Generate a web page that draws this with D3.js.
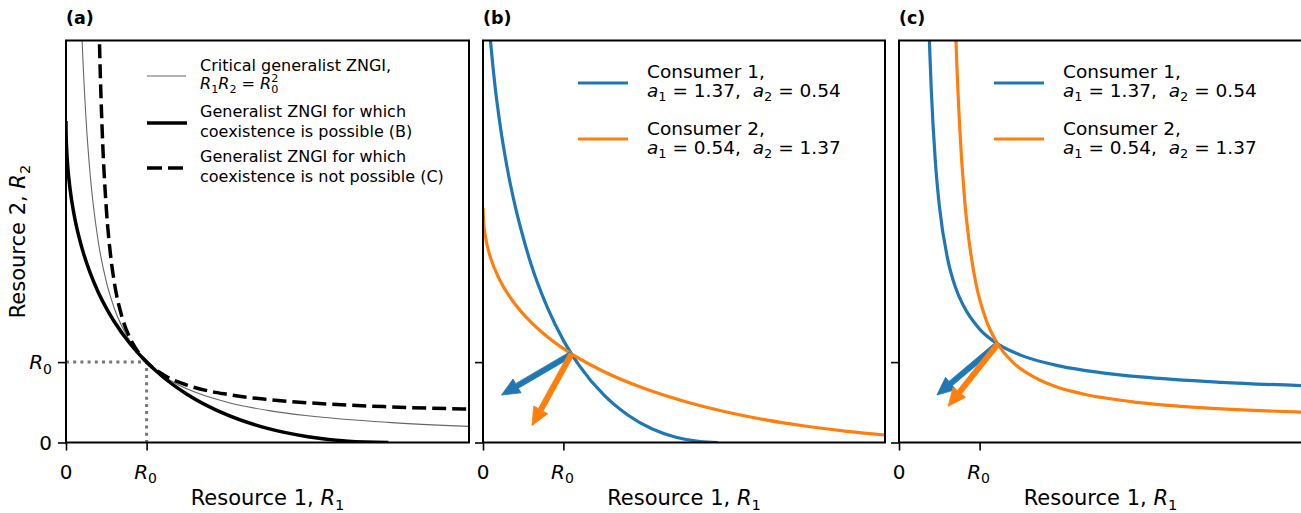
<!DOCTYPE html>
<html>
<head>
<meta charset="utf-8">
<script src="https://cdn.jsdelivr.net/npm/d3@7"></script>
<style>
body{margin:0;background:#fff;}
svg{display:block;font-family:"DejaVu Sans",sans-serif;}
text{white-space:pre;}
</style>
</head>
<body>
<svg id="chart" width="1301" height="513"></svg>
<script>
// values (R in units of R0)
var panelTitles = ["(a)", "(b)", "(c)"];
var tickValues = [0, 1];

// panel (a)
var criticalZNGI = [[0.18,5.56],[0.2,5],[0.25,4],[0.3,3.33],[0.4,2.5],[0.5,2],[0.6,1.667],[0.8,1.25],[1,1],[1.25,0.8],[1.5,0.667],[2,0.5],[2.5,0.4],[3,0.333],[4,0.25],[5,0.2]];
var zngiB = [[0,4],[0.001,3.875],[0.01,3.61],[0.02,3.454],[0.05,3.156],[0.1,2.835],[0.2,2.411],[0.3,2.109],[0.4,1.87],[0.5,1.672],[0.6,1.502],[0.8,1.222],[1,1],[1.2,0.818],[1.5,0.601],[2,0.343],[2.5,0.175],[3,0.072],[3.5,0.017],[4,0]];
var zngiC = [[0.4,5.7],[0.42,4.79],[0.45,3.855],[0.5,2.914],[0.55,2.355],[0.6,1.989],[0.7,1.544],[0.8,1.286],[0.9,1.118],[1,1],[1.25,0.818],[1.5,0.714],[2,0.598],[2.5,0.535],[3,0.494],[4,0.444],[5,0.415]];

// panel (b)
var consumer1B = [[0.08,5.16],[0.093,5],[0.1,4.92],[0.15,4.43],[0.2,4.04],[0.3,3.42],[0.4,2.94],[0.5,2.55],[0.6,2.21],[0.8,1.68],[1,1.27],[1.2,0.954],[1.5,0.594],[1.8,0.342],[2.1,0.171],[2.4,0.065],[2.7,0.011],[2.92,0]];
var consumer2B = [[0,2.92],[0.01,2.709],[0.02,2.624],[0.05,2.46],[0.1,2.281],[0.2,2.039],[0.4,1.72],[0.6,1.494],[0.8,1.316],[1,1.168],[1.5,0.883],[2,0.674],[2.5,0.513],[3,0.386],[3.5,0.285],[4,0.205],[4.5,0.142],[5,0.093]];
var arrowsB = [{x0:1.1,y0:1.1,dx:-0.87,dy:-0.51},{x0:1.1,y0:1.1,dx:-0.49,dy:-0.89}];

// panel (c)
var consumer1C = [[0.37,5.22],[0.38,4.91],[0.4,4.4],[0.45,3.51],[0.5,2.95],[0.6,2.3],[0.7,1.93],[0.8,1.7],[1,1.41],[1.25,1.21],[1.5,1.09],[2,0.95],[2.5,0.87],[3,0.816],[4,0.749],[5,0.707]];
var consumer2C = [[0.692,5.5],[0.707,5],[0.749,4],[0.816,3],[0.87,2.5],[0.95,2],[1.09,1.5],[1.21,1.25],[1.41,1],[1.7,0.8],[1.93,0.7],[2.3,0.6],[2.95,0.5],[3.51,0.45],[4.4,0.4],[4.91,0.38],[5.22,0.37]];
var arrowsC = [{x0:1.23,y0:1.23,dx:-0.76,dy:-0.64},{x0:1.23,y0:1.23,dx:-0.62,dy:-0.78}];

var consumerNames = ["Consumer 1,", "Consumer 2,"];
var consumerA1 = ["1.37", "0.54"];
var consumerA2 = ["0.54", "1.37"];
var legendA = ["Critical generalist ZNGI,", "Generalist ZNGI for which|coexistence is possible (B)", "Generalist ZNGI for which|coexistence is not possible (C)"];

var blue = "#1f77b4", orange = "#ff7f0e";
var svg = d3.select("#chart");
var panelLeft = [66, 483, 899], panelW = [403, 402, 403];
var plotTop = 40.5, plotBottom = 442.5;

// text with italic / sub / sup parts
function rich(sel, parts, fs){
    var off = 0;
    parts.forEach(function(p){
        var t = sel.append("tspan").text(p[0]);
        var target = 0;
        if(p[1] == "sub"){ target = fs*0.22; t.attr("font-size", fs*0.7); }
        if(p[1] == "sup"){ target = -fs*0.42; t.attr("font-size", fs*0.7); if(p[2]) t.attr("dx", p[2]); }
        if(p[1] == "i"){ t.attr("font-style", "italic"); }
        if(target != off){ t.attr("dy", target-off); off = target; }
    });
}

var line = d3.line().curve(d3.curveMonotoneX);

function drawArrow(g, x, y, a, color){
    var px0 = x(a.x0), py0 = y(a.y0), px1 = x(a.x0+a.dx), py1 = y(a.y0+a.dy);
    var L = Math.hypot(px1-px0, py1-py0);
    var ux = (px1-px0)/L, uy = (py1-py0)/L, nx = -uy, ny = ux;
    var hl = 18, hw = 8, bw = 2.7;
    var bx = px1 - ux*hl, by = py1 - uy*hl;
    var pts = [[px0+nx*bw,py0+ny*bw],[bx+nx*bw,by+ny*bw],[bx+nx*hw,by+ny*hw],[px1,py1],[bx-nx*hw,by-ny*hw],[bx-nx*bw,by-ny*bw],[px0-nx*bw,py0-ny*bw]];
    g.append("polygon").attr("points", pts.map(function(p){return p.join(",");}).join(" "))
        .attr("fill", color).attr("stroke", color).attr("stroke-width", 0.8).attr("stroke-linejoin","miter");
}

for(var i = 0; i < 3; i++){
    var L = panelLeft[i];
    var x = d3.scaleLinear().domain([0,5]).range([L, L+panelW[i]]);
    var y = d3.scaleLinear().domain([0,5]).range([plotBottom, plotTop]);
    var g = svg.append("g");

    svg.append("clipPath").attr("id", "clip"+i).append("rect")
        .attr("x", L).attr("y", plotTop).attr("width", panelW[i]).attr("height", plotBottom-plotTop);
    var plot = g.append("g").attr("clip-path", "url(#clip"+i+")");
    line.x(function(d){return x(d[0]);}).y(function(d){return y(d[1]);});

    if(i == 0){
        plot.append("path").attr("d", "M"+x(0)+","+y(1)+"H"+x(1)+"V"+y(0))
            .attr("fill","none").attr("stroke","#777").attr("stroke-width",3).attr("stroke-dasharray","3,4.2");
        plot.append("path").attr("d", line(criticalZNGI)).attr("fill","none").attr("stroke","#666").attr("stroke-width",1.1);
        plot.append("path").attr("d", line(zngiB)).attr("fill","none").attr("stroke","#000").attr("stroke-width",3.5);
        plot.append("path").attr("d", line(zngiC)).attr("fill","none").attr("stroke","#000").attr("stroke-width",3.5).attr("stroke-dasharray","14,6");
    }else{
        var c1 = i == 1 ? consumer1B : consumer1C;
        var c2 = i == 1 ? consumer2B : consumer2C;
        var arr = i == 1 ? arrowsB : arrowsC;
        plot.append("path").attr("d", line(c1)).attr("fill","none").attr("stroke",blue).attr("stroke-width",3.2);
        plot.append("path").attr("d", line(c2)).attr("fill","none").attr("stroke",orange).attr("stroke-width",3.2);
        drawArrow(plot, x, y, arr[0], blue);
        drawArrow(plot, x, y, arr[1], orange);
    }

    // axes (ticks only, labels drawn as rich text)
    var ax = g.append("g").attr("transform","translate(0,"+plotBottom+")")
        .call(d3.axisBottom(x).tickValues(tickValues).tickSize(8).tickFormat(""));
    var ay = g.append("g").attr("transform","translate("+L+",0)")
        .call(d3.axisLeft(y).tickValues(tickValues).tickSize(8).tickFormat(""));
    [ax, ay].forEach(function(a){
        a.select(".domain").remove();
        a.selectAll(".tick line").attr("stroke","#000").attr("stroke-width",1.6);
    });

    g.append("rect").attr("x", L).attr("y", plotTop).attr("width", panelW[i]).attr("height", plotBottom-plotTop)
        .attr("fill","none").attr("stroke","#000").attr("stroke-width",2);

    // x tick labels
    g.append("text").attr("x", x(0)).attr("y", 479).attr("text-anchor","middle").attr("font-size",20).text("0");
    rich(g.append("text").attr("x", x(1)-1).attr("y", 479).attr("text-anchor","middle").attr("font-size",20), [["R","i"],["0","sub"]], 20);
    rich(g.append("text").attr("x", L+panelW[i]/2).attr("y", 505).attr("text-anchor","middle").attr("font-size",21),
        [["Resource 1, "],["R","i"],["1","sub"]], 21);

    g.append("text").attr("x", L).attr("y", 24).attr("font-size",17.5).attr("font-weight","bold").text(panelTitles[i]);

    if(i == 0){
        g.append("text").attr("x", L-14).attr("y", y(0)+7).attr("text-anchor","end").attr("font-size",20).text("0");
        rich(g.append("text").attr("x", L-14).attr("y", y(1)+7).attr("text-anchor","end").attr("font-size",20), [["R","i"],["0","sub"]], 20);
        rich(g.append("text").attr("transform","translate(25,"+((plotTop+plotBottom)/2)+") rotate(-90)").attr("text-anchor","middle").attr("font-size",21),
            [["Resource 2, "],["R","i"],["2","sub"]], 21);

        // legend (a)
        var lg = g.append("g");
        var hy = [76, 123, 168];
        lg.append("line").attr("x1",147).attr("x2",186).attr("y1",hy[0]).attr("y2",hy[0]).attr("stroke","#666").attr("stroke-width",1.1);
        lg.append("line").attr("x1",147).attr("x2",187).attr("y1",hy[1]).attr("y2",hy[1]).attr("stroke","#000").attr("stroke-width",3.5);
        lg.append("line").attr("x1",147).attr("x2",186).attr("y1",hy[2]).attr("y2",hy[2]).attr("stroke","#000").attr("stroke-width",3.5).attr("stroke-dasharray","15,6");
        var fs = 16;
        lg.append("text").attr("x",200).attr("y",70.5).attr("font-size",fs).text(legendA[0]);
        rich(lg.append("text").attr("x",200).attr("y",89).attr("font-size",fs),
            [["R","i"],["1","sub"],["R","i"],["2","sub"],[" = "],["R","i"],["0","sub"],["2","sup",-fs*0.7*0.636]], fs);
        var base = [117, 162];
        for(var k = 0; k < 2; k++){
            var ls = legendA[k+1].split("|");
            lg.append("text").attr("x",200).attr("y",base[k]).attr("font-size",fs).text(ls[0]);
            lg.append("text").attr("x",200).attr("y",base[k]+19.5).attr("font-size",fs).text(ls[1]);
        }
    }else{
        var lx = L + 95;
        var cols = [blue, orange];
        var hy2 = [83, 139], tb = [78, 135];
        for(var k = 0; k < 2; k++){
            g.append("line").attr("x1",lx).attr("x2",lx+50).attr("y1",hy2[k]).attr("y2",hy2[k]).attr("stroke",cols[k]).attr("stroke-width",3.2);
            g.append("text").attr("x",lx+69).attr("y",tb[k]).attr("font-size",18.5).text(consumerNames[k]);
            rich(g.append("text").attr("x",lx+69).attr("y",tb[k]+19).attr("font-size",18.5),
                [["a","i"],["1","sub"],[" = "+consumerA1[k]+",  "],["a","i"],["2","sub"],[" = "+consumerA2[k]]], 18.5);
        }
    }
}
</script>
</body>
</html>
